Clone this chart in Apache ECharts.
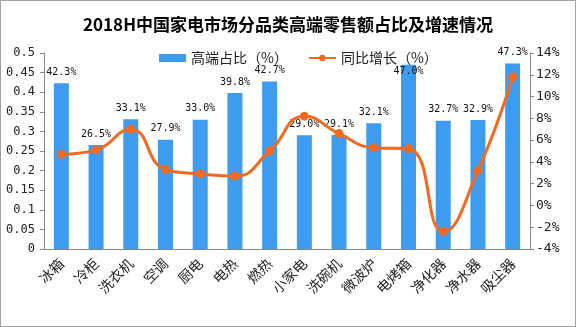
<!DOCTYPE html>
<html>
<head>
<meta charset="utf-8">
<script src="https://cdn.jsdelivr.net/npm/echarts@6/dist/echarts.min.js"></script>
<style>
  html, body { margin: 0; padding: 0; background: #fff; }
  #chart { width: 576px; height: 327px; }
</style>
</head>
<body>
<div id="chart"></div>
<script>
// Product categories
var categories = ['冰箱', '冷柜', '洗衣机', '空调', '厨电', '电热', '燃热', '小家电', '洗碗机', '微波炉', '电烤箱', '净化器', '净水器', '吸尘器'];
// High-end share of retail sales (fraction)
var highEndShare = [0.423, 0.265, 0.331, 0.279, 0.330, 0.398, 0.427, 0.290, 0.291, 0.321, 0.470, 0.327, 0.329, 0.473];
// Year-on-year growth (%)
var yoyGrowth = [4.7, 5.1, 7.0, 3.3, 2.9, 2.7, 5.0, 8.2, 6.6, 5.3, 5.2, -2.4, 3.2, 11.8];

var titleText = '2018H中国家电市场分品类高端零售额占比及增速情况';
var shareName = '高端占比（%）';
var growthName = '同比增长（%）';

var chart = echarts.init(document.getElementById('chart'), null, { renderer: 'canvas' });

var barColor = '#3d9cf0';
var lineColor = '#f26a1f';
var axisColor = '#888888';
var monoFont = 'DejaVu Sans Mono';

// the tallest-but-one bar keeps its label just inside its top
var shareData = highEndShare.map(function (v) {
  var item = { value: v };
  if (v === 0.470) {
    item.label = { position: 'insideTop', distance: 2 };
  }
  return item;
});

chart.setOption({
  animation: false,
  backgroundColor: '#ffffff',
  graphic: [{
    type: 'rect',
    shape: { x: 0.5, y: 0.5, width: 575, height: 326 },
    style: { fill: 'none', stroke: '#a0a0a0', lineWidth: 1 },
    silent: true
  }],
  title: {
    text: titleText,
    left: 'center',
    top: 11,
    textStyle: {
      fontFamily: 'Noto Sans CJK SC',
      fontSize: 17,
      fontWeight: 'bold',
      color: '#000'
    }
  },
  legend: {
    left: 154,
    top: 46,
    itemWidth: 27,
    itemHeight: 8,
    itemGap: 20,
    textStyle: {
      fontFamily: 'Noto Sans CJK SC',
      fontSize: 14,
      color: '#222'
    },
    data: [
      { name: shareName, icon: 'rect' },
      { name: growthName }
    ]
  },
  grid: { left: 44, right: 46, top: 53, bottom: 78 },
  xAxis: {
    type: 'category',
    data: categories,
    boundaryGap: true,
    axisLine: { lineStyle: { color: axisColor } },
    axisTick: { length: 5, alignWithLabel: false, lineStyle: { color: axisColor } },
    axisLabel: {
      rotate: 45,
      interval: 0,
      margin: 12,
      fontFamily: 'Noto Sans CJK SC',
      fontSize: 14,
      color: '#222'
    }
  },
  yAxis: [{
    type: 'value',
    min: 0,
    max: 0.5,
    interval: 0.05,
    position: 'left',
    splitLine: { show: false },
    axisLine: { show: true, lineStyle: { color: axisColor } },
    axisTick: { show: true, length: 4, inside: false, lineStyle: { color: axisColor } },
    axisLabel: {
      margin: 9,
      fontFamily: monoFont,
      fontSize: 12,
      color: '#222',
      formatter: function (v) { return String(+v.toFixed(2)); }
    }
  }, {
    type: 'value',
    min: -4,
    max: 14,
    interval: 2,
    position: 'right',
    splitLine: { show: false },
    axisLine: { show: true, lineStyle: { color: axisColor } },
    axisTick: { show: true, length: 4, lineStyle: { color: axisColor } },
    axisLabel: {
      margin: 6,
      fontFamily: monoFont,
      fontSize: 13,
      color: '#222',
      formatter: '{value}%'
    }
  }],
  series: [{
    name: shareName,
    type: 'bar',
    yAxisIndex: 0,
    data: shareData,
    barWidth: 15,
    itemStyle: { color: barColor },
    label: {
      show: true,
      position: 'top',
      distance: 6,
      fontFamily: monoFont,
      fontSize: 10,
      color: '#111',
      formatter: function (p) { return (p.value * 100).toFixed(1) + '%'; }
    },
    z: 2
  }, {
    name: growthName,
    type: 'line',
    yAxisIndex: 1,
    data: yoyGrowth,
    smooth: 0.5,
    symbol: 'circle',
    symbolSize: 9,
    lineStyle: { color: lineColor, width: 3 },
    itemStyle: { color: lineColor },
    z: 3
  }]
});
</script>
</body>
</html>
